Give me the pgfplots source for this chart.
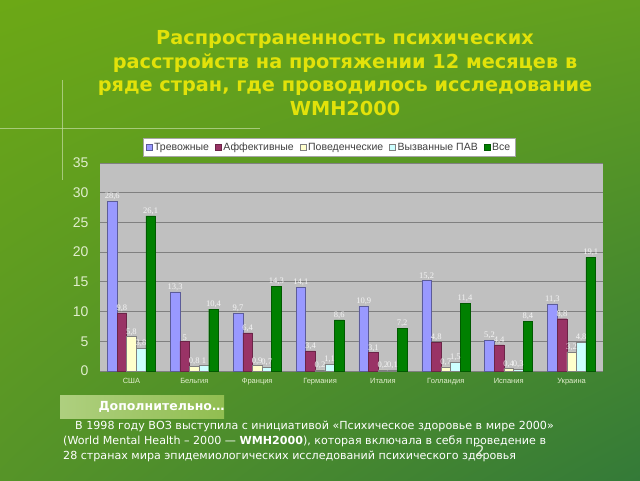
\documentclass[border=0pt]{standalone}
\usepackage{pgfplots}
\pgfplotsset{compat=1.18}
\usetikzlibrary{shadings}
\usepackage{fontspec}
\setmainfont{DejaVu Sans}
\newfontfamily\arialf{Liberation Sans}
\newfontfamily\timesf{Liberation Serif}

\definecolor{bgUL}{RGB}{108,168,22}
\definecolor{bgUR}{RGB}{98,160,32}
\definecolor{bgLL}{RGB}{86,148,40}
\definecolor{bgLR}{RGB}{52,122,56}
\definecolor{titleyellow}{RGB}{226,226,10}
\definecolor{plotgray}{RGB}{192,192,192}
\definecolor{gridgray}{RGB}{128,128,128}
\definecolor{ticklight}{RGB}{225,238,205}
\definecolor{cBlue}{RGB}{153,153,255}
\definecolor{cMag}{RGB}{153,51,102}
\definecolor{cYel}{RGB}{255,255,204}
\definecolor{cCya}{RGB}{204,255,255}
\definecolor{cGrn}{RGB}{0,128,0}

\begin{document}
\begin{tikzpicture}[x=1pt,y=1pt]
\clip (0,0) rectangle (640,480);
\shade[upper left=bgUL, upper right=bgUR, lower left=bgLL, lower right=bgLR] (0,0) rectangle (640,480);
% decorative light cross
\draw[white!60!bgUL, line width=1pt, opacity=0.7] (0,351.3) -- (260,351.3);
\draw[white!60!bgUL, line width=1pt, opacity=0.7] (62,400) -- (62,300);

% title
\node[align=center, font=\bfseries\fontsize{19.3}{23.5}\selectfont, text=titleyellow] at (345,407)
  {Распространенность психических\\расстройств на протяжении 12 месяцев в\\ряде стран, где проводилось исследование\\WMH2000};

\coordinate (plotSW) at (100,109);
\begin{axis}[
    at={(plotSW)}, anchor=south west,
    width=503pt, height=208pt, scale only axis,
    ybar=0pt, bar width=9.6pt,
    xmin=-0.5, xmax=7.5, ymin=0, ymax=35,
    xtick={0,...,7},
    xticklabels={США,Бельгия,Франция,Германия,Италия,Голландия,Испания,Украина},
    ytick={0,5,...,35},
    major tick length=0pt,
    axis line style={draw=none},
    axis background/.style={fill=plotgray},
    ymajorgrids, grid style={draw=gridgray, line width=0.9pt},
    /pgf/number format/assume math mode=true,
    yticklabel style={font=\arialf\fontsize{14}{14}\selectfont, text=ticklight, xshift=-8pt},
    xticklabel style={font=\arialf\fontsize{7.5}{8}\selectfont, text=ticklight, yshift=-4pt},
    nodes near coords={\pgfmathprintnumber[use comma,fixed,precision=1]{\pgfplotspointmeta}},
    every node near coord/.append style={font=\timesf\fontsize{8.5}{8.5}\selectfont, text=white!92!gray, inner sep=1pt},
    legend columns=-1,
    legend cell align=left,
    legend style={at={(rel axis cs:0.0855,1.12)}, anchor=north west,
        draw=gray!70, fill=white, inner sep=2.5pt,
        font=\arialf\fontsize{10.5}{10.5}\selectfont, text=black!75,
        /tikz/every even column/.append style={column sep=4pt}},
    legend image code/.code={\draw[#1] (0pt,-3pt) rectangle (6pt,3pt);},
]
\addplot[fill=cBlue, draw=cBlue!60!black, thin] coordinates {
    (0,28.6) (1,13.3) (2,9.7) (3,14.1) (4,10.9) (5,15.2) (6,5.2) (7,11.3)};
\addplot[fill=cMag, draw=cMag!70!black, thin] coordinates {
    (0,9.8) (1,5) (2,6.4) (3,3.4) (4,3.1) (5,4.8) (6,4.4) (7,8.8)};
\addplot[fill=cYel, draw=gray, thin] coordinates {
    (0,5.8) (1,0.8) (2,0.9) (3,0.2) (4,0.2) (5,0.7) (6,0.4) (7,3.2)};
\addplot[fill=cCya, draw=gray, thin] coordinates {
    (0,3.8) (1,1) (2,0.7) (3,1.1) (4,0.1) (5,1.5) (6,0.3) (7,4.8)};
\addplot[fill=cGrn, draw=cGrn!70!black, thin] coordinates {
    (0,26.1) (1,10.4) (2,14.3) (3,8.6) (4,7.2) (5,11.4) (6,8.4) (7,19.1)};
\legend{Тревожные,Аффективные,Поведенческие,Вызванные ПАВ,Все}
\end{axis}

% "Дополнительно..." tab
\shade[left color=white!45!bgUL, right color=white!25!bgUL] (60,62) rectangle (224,85);
\node[anchor=west, font=\bfseries\fontsize{12.5}{14}\selectfont, text=white] at (95,73.5) {Дополнительно…};

% description
\node[anchor=base west, font=\fontsize{11.1}{13}\selectfont, text=white, inner sep=0pt] at (75,50.5)
  {В 1998 году ВОЗ выступила с инициативой «Психическое здоровье в мире 2000»};
\node[anchor=base west, font=\fontsize{11.1}{13}\selectfont, text=white, inner sep=0pt] at (63,35.5)
  {(World Mental Health – 2000 — \textbf{WMH2000}), которая включала в себя проведение в};
\node[anchor=base west, font=\fontsize{11.1}{13}\selectfont, text=white, inner sep=0pt] at (63,20.5)
  {28 странах мира эпидемиологических исследований психического здоровья};
\node[font=\fontsize{15}{15}\selectfont, text=white!80!bgLL] at (480,29) {2};
\end{tikzpicture}
\end{document}
